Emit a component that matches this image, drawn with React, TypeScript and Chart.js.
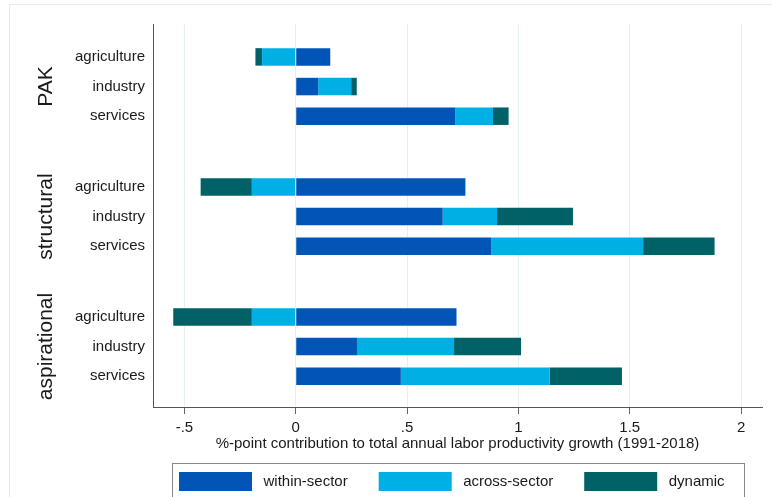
import { useEffect, useRef } from "react";
import { Chart, registerables } from "chart.js";

Chart.register(...registerables);

// Scenarios (outer groups) and sectors (rows inside each group)
const scenarios = ["PAK", "structural", "aspirational"];
const sectors = ["agriculture", "industry", "services"];

// Contributions, row order: PAK (agr, ind, serv), structural (...), aspirational (...)
const withinSector = [0.155, 0.101, 0.717, 0.762, 0.66, 0.879, 0.722, 0.275, 0.472];
const acrossSector = [-0.151, 0.148, 0.169, -0.197, 0.244, 0.681, -0.197, 0.436, 0.668];
const dynamicEffect = [-0.03, 0.025, 0.07, -0.23, 0.341, 0.321, -0.353, 0.301, 0.325];

const seriesLabels = ["within-sector", "across-sector", "dynamic"];
const seriesColors = ["#0055b7", "#00b0e4", "#006166"];

const xTicks = [-0.5, 0, 0.5, 1, 1.5, 2];
const xTitle = "%-point contribution to total annual labor productivity growth (1991-2018)";

const FONT = "'Liberation Sans', Arial, Helvetica, sans-serif";
const TEXT = "#1a1a1a";
const GROUP_STRIDE = 4.385;

const rowPos = scenarios.flatMap((_, g) => sectors.map((_, s) => g * GROUP_STRIDE + s));

const fmtTick = (v: number) => (v === 0 ? "0" : String(v).replace("0.", "."));

const decorations = {
  id: "decorations",
  beforeDraw(chart: any) {
    const ctx = chart.ctx;
    ctx.save();
    ctx.strokeStyle = "#e2ecef";
    ctx.lineWidth = 1;
    ctx.strokeRect(9.5, 4.5, 900, 700);
    ctx.restore();
  },
  afterDraw(chart: any) {
    const ctx = chart.ctx;
    const y = chart.scales.y;
    ctx.save();
    // scenario names, rotated, centred on the middle row of each group
    ctx.font = `21px ${FONT}`;
    ctx.fillStyle = TEXT;
    ctx.textAlign = "center";
    ctx.textBaseline = "alphabetic";
    scenarios.forEach((name, g) => {
      const cy = y.getPixelForValue(g * GROUP_STRIDE + 1);
      ctx.save();
      ctx.translate(52, cy);
      ctx.rotate(-Math.PI / 2);
      ctx.fillText(name, 0, 0);
      ctx.restore();
    });

    // boxed legend
    ctx.strokeStyle = "#8a8a8a";
    ctx.lineWidth = 1;
    ctx.strokeRect(172.5, 463.5, 572, 60);
    ctx.font = `15px ${FONT}`;
    ctx.textAlign = "left";
    ctx.textBaseline = "middle";
    let x = 179;
    chart.data.datasets.forEach((ds: any) => {
      ctx.fillStyle = ds.backgroundColor;
      ctx.fillRect(x, 472, 73, 19);
      ctx.fillStyle = TEXT;
      const tx = x + 73 + 11.5;
      ctx.fillText(ds.label, tx, 482);
      x = tx + ctx.measureText(ds.label).width + 31;
    });
    ctx.restore();
  },
};

export default function App() {
  const ref = useRef<HTMLCanvasElement | null>(null);

  useEffect(() => {
    if (!ref.current) return;
    const series = [withinSector, acrossSector, dynamicEffect];
    const chart = new Chart(ref.current, {
      type: "bar",
      data: {
        datasets: series.map((vals, k) => ({
          label: seriesLabels[k],
          data: vals.map((v, i) => ({ x: v, y: rowPos[i] })),
          backgroundColor: seriesColors[k],
          borderWidth: 0,
          grouped: false,
          categoryPercentage: 1,
          barPercentage: 0.59,
        })),
      },
      options: {
        indexAxis: "y",
        responsive: false,
        animation: false,
        layout: { padding: { left: 0, top: 24, right: 10, bottom: 42 } },
        plugins: { legend: { display: false }, tooltip: { enabled: false } },
        scales: {
          x: {
            type: "linear",
            stacked: true,
            min: -0.641,
            max: 2.094,
            afterBuildTicks: (s: any) => {
              s.ticks = xTicks.map((v) => ({ value: v }));
            },
            afterFit: (s: any) => {
              s.height = 48;
            },
            ticks: {
              callback: (v: any) => fmtTick(Number(v)),
              font: { family: FONT, size: 15 },
              color: TEXT,
              padding: 5,
              autoSkip: false,
              maxRotation: 0,
            },
            grid: { color: "#e6eff1", lineWidth: 1, tickLength: 7, tickColor: "#666", drawTicks: true },
            border: { color: "#555", width: 1 },
            title: {
              display: true,
              text: xTitle,
              font: { family: FONT, size: 15 },
              color: TEXT,
              padding: { top: 0, bottom: 2 },
            },
          },
          y: {
            type: "linear",
            reverse: true,
            offset: false,
            min: -1.11,
            max: 11.81,
            afterBuildTicks: (s: any) => {
              s.ticks = rowPos.map((v) => ({ value: v }));
            },
            afterFit: (s: any) => {
              s.width = 153;
            },
            ticks: {
              callback: (_v: any, i: number) => sectors[i % sectors.length],
              font: { family: FONT, size: 15 },
              color: TEXT,
              padding: 8,
              autoSkip: false,
            },
            grid: { display: false, drawTicks: false, offset: false },
            border: { display: true, color: "#555", width: 1 },
          },
        },
      } as any,
      plugins: [decorations],
    });
    return () => chart.destroy();
  }, []);

  return (
    <div style={{ position: "absolute", left: 0, top: 0, width: 772, height: 497 }}>
      <canvas ref={ref} width={772} height={497} />
    </div>
  );
}
